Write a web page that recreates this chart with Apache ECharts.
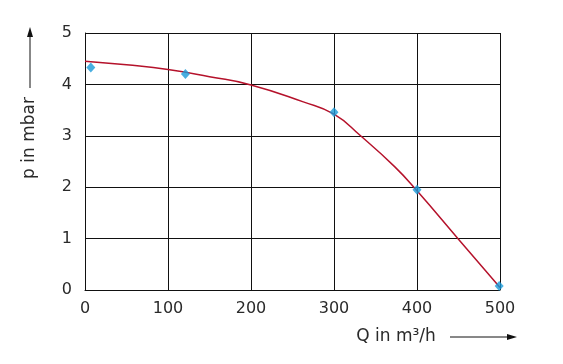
<!DOCTYPE html>
<html>
<head>
<meta charset="utf-8">
<script src="https://cdn.jsdelivr.net/npm/echarts@6/dist/echarts.min.js"></script>
<style>html,body{margin:0;padding:0;background:#fff;}#c{width:563px;height:364px;}</style>
</head>
<body>
<div id="c"></div>
<script>
var xTicks = [0, 100, 200, 300, 400, 500];
var yTicks = [0, 1, 2, 3, 4, 5];
var measuredQ = [7, 121, 300, 400, 499];
var measuredP = [4.33, 4.20, 3.46, 1.95, 0.08];
var curveQ = [0, 50, 100, 150, 200, 263, 300, 332, 373, 400, 451, 500];
var curveP = [4.45, 4.38, 4.29, 4.15, 3.99, 3.66, 3.42, 3.0, 2.4, 1.93, 0.97, 0.05];
var xTitle = 'Q in m³/h';
var yTitle = 'p in mbar';

var chart = echarts.init(document.getElementById('c'), null, {renderer: 'canvas'});
var font = 'DejaVu Sans';
var txt = '#2a2a2a';
chart.setOption({
  animation: false,
  grid: {left: 85, right: 63, top: 33, bottom: 74},
  xAxis: {
    type: 'value', min: xTicks[0], max: xTicks[xTicks.length - 1], interval: 100,
    axisLine: {show: true, lineStyle: {color: '#111', width: 1}},
    axisTick: {show: false},
    splitLine: {show: true, lineStyle: {color: '#111', width: 1}},
    axisLabel: {fontFamily: font, fontSize: 16, color: txt, margin: 11}
  },
  yAxis: {
    type: 'value', min: yTicks[0], max: yTicks[yTicks.length - 1], interval: 1,
    axisLine: {show: true, lineStyle: {color: '#111', width: 1}},
    axisTick: {show: false},
    splitLine: {show: true, lineStyle: {color: '#111', width: 1}},
    axisLabel: {fontFamily: font, fontSize: 16, color: txt, margin: 13}
  },
  series: [
    {
      type: 'line',
      data: curveQ.map(function (q, i) { return [q, curveP[i]]; }),
      smooth: 0.5,
      showSymbol: false,
      lineStyle: {color: '#b5122b', width: 1.5},
      z: 3
    },
    {
      type: 'scatter',
      data: measuredQ.map(function (q, i) { return [q, measuredP[i]]; }),
      symbol: 'diamond',
      symbolSize: [9, 10],
      itemStyle: {color: '#1a9ad8'},
      z: 4
    }
  ],
  graphic: [
    {type: 'text', x: 30, y: 138, rotation: Math.PI / 2,
     style: {text: yTitle, fontFamily: font, fontSize: 17, fill: txt, textAlign: 'center', textVerticalAlign: 'middle'}},
    {type: 'line', shape: {x1: 30, y1: 88, x2: 30, y2: 34}, style: {stroke: '#111', lineWidth: 1}},
    {type: 'polygon', shape: {points: [[30, 27], [27, 37], [33, 37]]}, style: {fill: '#111'}},
    {type: 'text', x: 396, y: 337,
     style: {text: xTitle, fontFamily: font, fontSize: 17, fill: txt, textAlign: 'center', textVerticalAlign: 'middle'}},
    {type: 'line', shape: {x1: 450, y1: 337, x2: 510, y2: 337}, style: {stroke: '#111', lineWidth: 1}},
    {type: 'polygon', shape: {points: [[517, 337], [507, 334], [507, 340]]}, style: {fill: '#111'}}
  ]
});
</script>
</body>
</html>
